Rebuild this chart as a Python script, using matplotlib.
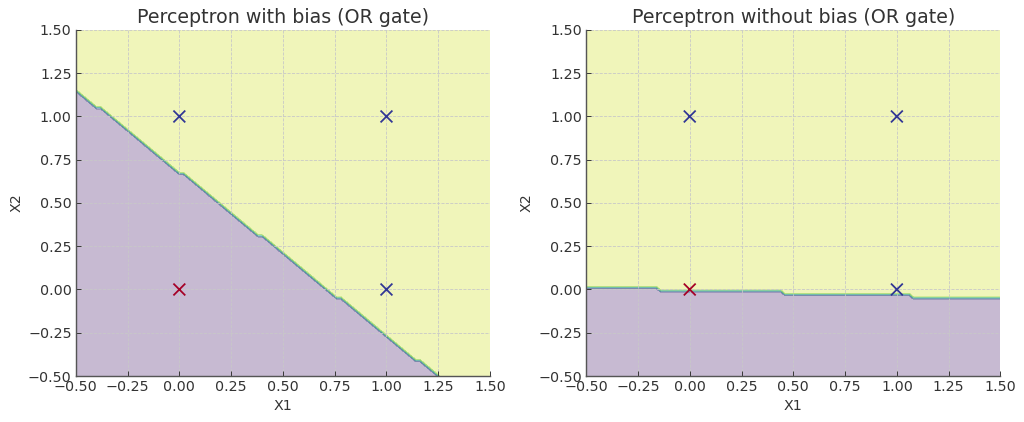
import numpy as np
import matplotlib
matplotlib.use("Agg")
import matplotlib.pyplot as plt

# OR gate inputs and targets
X1 = [0, 0, 1, 1]
X2 = [0, 1, 0, 1]
labels = [0, 1, 1, 1]

# learned weights
w_bias = [0.3318, 0.35]
b_bias = -0.238
w_nobias = [0.033, 1.0]
b_nobias = 0.005

titles = ["Perceptron with bias (OR gate)", "Perceptron without bias (OR gate)"]

plt.rcParams.update({
    "text.color": "#333333",
    "axes.labelcolor": "#333333",
    "xtick.color": "#333333",
    "ytick.color": "#333333",
    "xtick.direction": "in",
    "ytick.direction": "in",
    "axes.edgecolor": "#555555",
    "axes.linewidth": 1.2,
    "font.size": 12,
})


def plot_boundary(ax, w, b, title):
    h = 0.02
    xx, yy = np.meshgrid(np.arange(-0.5, 1.5 + h, h), np.arange(-0.5, 1.5 + h, h))
    z = (w[0] * xx + w[1] * yy + b > 0).astype(int)
    ax.contourf(xx, yy, z, alpha=0.3, cmap="viridis")
    ax.scatter(X1, X2, c=labels, cmap="RdYlBu", marker="x", s=100, linewidths=1.5, zorder=3)
    ax.set_xlim(-0.5, 1.5)
    ax.set_ylim(-0.5, 1.5)
    ax.set_xticks(np.arange(-0.5, 1.51, 0.25))
    ax.set_yticks(np.arange(-0.5, 1.51, 0.25))
    ax.set_title(title, fontsize=16)
    ax.set_xlabel("X1", fontsize=12)
    ax.set_ylabel("X2", fontsize=12)
    ax.grid(True, linestyle="--", color="#c8c8c8", linewidth=0.7)
    ax.spines["top"].set_visible(False)
    ax.spines["right"].set_visible(False)
    ax.tick_params(pad=3.5, length=4, labelsize=12)


fig, axes = plt.subplots(1, 2, figsize=(12, 422 / (1024 / 12)), dpi=1024 / 12)
plot_boundary(axes[0], w_bias, b_bias, titles[0])
plot_boundary(axes[1], w_nobias, b_nobias, titles[1])
fig.subplots_adjust(left=0.074, right=0.977, top=0.929, bottom=0.109, wspace=0.232)
fig.savefig("out.png")
